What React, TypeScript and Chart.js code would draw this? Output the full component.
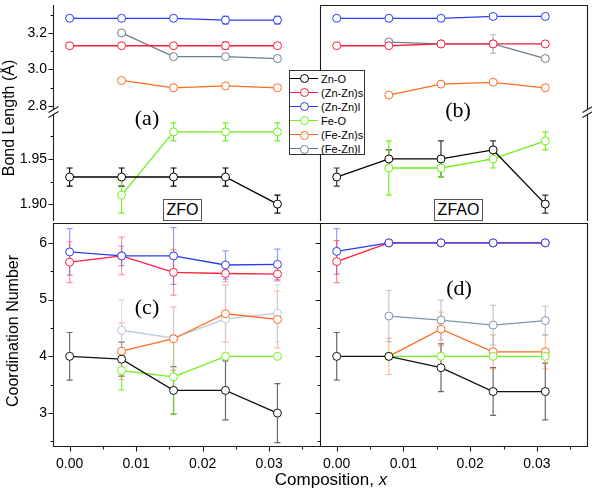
import React, { useEffect, useRef } from "react";
import { Chart, registerables } from "chart.js";
Chart.register(...registerables);

// ---------- shared axis data ----------
const compositions = [0, 0.0078125, 0.015625, 0.0234375, 0.03125];
const X_MIN = -0.0025;
const X_MAX = 0.0375;
const xMajorTicks = [0, 0.01, 0.02, 0.03];
const xMinorTicks = [0.005, 0.015, 0.025, 0.035];
const xTickLabels = ["0.00", "0.01", "0.02", "0.03"];

const seriesNames = ["Zn-O", "(Zn-Zn)s", "(Zn-Zn)l", "Fe-O", "(Fe-Zn)s", "(Fe-Zn)l"];

// bond length axis (broken)
const upperMin = 2.7676;
const upperMax = 3.3527;
const upperMajorTicks = [2.8, 3.0, 3.2];
const upperMinorTicks = [2.9, 3.1, 3.3];
const upperTickLabels = ["2.8", "3.0", "3.2"];
const lowerMin = 1.8824;
const lowerMax = 2.002;
const lowerMajorTicks = [1.9, 1.95];
const lowerMinorTicks = [1.925, 1.975];
const lowerTickLabels = ["1.90", "1.95"];

// coordination number axis
const cnMin = 2.42;
const cnMax = 6.35;
const cnMajorTicks = [3, 4, 5, 6];
const cnMinorTicks = [2.5, 3.5, 4.5, 5.5];
const cnTickLabels = ["3", "4", "5", "6"];

// ---------- (a) ZFO bond lengths ----------
const zfoZnO = [1.93, 1.93, 1.93, 1.93, 1.9];
const zfoZnOErr = [0.01, 0.01, 0.01, 0.01, 0.01];
const zfoZnZnS = [3.13, 3.13, 3.13, 3.13, 3.13];
const zfoZnZnSErr = [0.015, 0.005, 0.005, 0.02, 0.015];
const zfoZnZnL = [3.28, 3.28, 3.28, 3.27, 3.27];
const zfoZnZnLErr = [0.006, 0.006, 0.006, 0.02, 0.02];
const zfoFeO = [null, 1.91, 1.98, 1.98, 1.98];
const zfoFeOErr = [null, 0.02, 0.01, 0.01, 0.01];
const zfoFeZnS = [null, 2.94, 2.9, 2.91, 2.9];
const zfoFeZnSErr = [null, 0, 0, 0, 0];
const zfoFeZnL = [null, 3.2, 3.07, 3.07, 3.06];
const zfoFeZnLErr = [null, 0, 0, 0, 0];

// ---------- (b) ZFAO bond lengths ----------
const zfaoZnO = [1.93, 1.95, 1.95, 1.96, 1.9];
const zfaoZnOErr = [0.01, 0.01, 0.02, 0.01, 0.01];
const zfaoZnZnS = [3.13, 3.13, 3.14, 3.14, 3.14];
const zfaoZnZnSErr = [0, 0, 0, 0, 0];
const zfaoZnZnL = [3.28, 3.28, 3.28, 3.29, 3.29];
const zfaoZnZnLErr = [0, 0, 0, 0, 0];
const zfaoFeO = [null, 1.94, 1.94, 1.95, 1.97];
const zfaoFeOErr = [null, 0.03, 0.01, 0.01, 0.01];
const zfaoFeZnS = [null, 2.86, 2.92, 2.93, 2.9];
const zfaoFeZnSErr = [null, 0, 0, 0, 0];
const zfaoFeZnL = [null, 3.15, 3.14, 3.14, 3.06];
const zfaoFeZnLErr = [null, 0.01, 0, 0.05, 0];

// ---------- (c) ZFO coordination numbers ----------
const cnZfoZnO = [4.0, 3.95, 3.4, 3.4, 3.0];
const cnZfoZnOErr = [0.42, 0.3, 0.42, 0.52, 0.52];
const cnZfoZnZnS = [5.66, 5.77, 5.48, 5.46, 5.45];
const cnZfoZnZnSErr = [0.36, 0.33, 0.4, 0.15, 0.12];
const cnZfoZnZnL = [5.84, 5.77, 5.77, 5.61, 5.62];
const cnZfoZnZnLErr = [0.41, 0.17, 0.5, 0.25, 0.27];
const cnZfoFeO = [null, 3.75, 3.64, 4.0, 4.0];
const cnZfoFeOErr = [null, 0.34, 0.66, 0, 0];
const cnZfoFeZnS = [null, 4.09, 4.31, 4.75, 4.65];
const cnZfoFeZnSErr = [null, 0.5, 0.56, 0.5, 0.5];
const cnZfoFeZnL = [null, 4.46, 4.32, 4.66, 4.76];
const cnZfoFeZnLErr = [null, 0.54, 0.55, 0.6, 0.5];

// ---------- (d) ZFAO coordination numbers ----------
const cnZfaoZnO = [4.0, 4.0, 3.8, 3.38, 3.38];
const cnZfaoZnOErr = [0.42, 0, 0.42, 0.42, 0.5];
const cnZfaoZnZnS = [5.67, 6.0, 6.0, 6.0, 6.0];
const cnZfaoZnZnSErr = [0.37, 0, 0, 0, 0];
const cnZfaoZnZnL = [5.85, 6.0, 6.0, 6.0, 6.0];
const cnZfaoZnZnLErr = [0.4, 0, 0, 0, 0];
const cnZfaoFeO = [null, 4.0, 4.0, 4.0, 4.0];
const cnZfaoFeOErr = [null, 0, 0, 0, 0];
const cnZfaoFeZnS = [null, 4.0, 4.48, 4.08, 4.08];
const cnZfaoFeZnSErr = [null, 0.32, 0.3, 0.3, 0.3];
const cnZfaoFeZnL = [null, 4.71, 4.64, 4.55, 4.63];
const cnZfaoFeZnLErr = [null, 0.45, 0.35, 0.35, 0.25];

// ---------- colours ----------
const cBlack = "#000000";
const cRed = "#ff1e3c";
const cBlue = "#2a3cf2";
const cGreen = "#6ff01a";
const cOrange = "#ff6b1f";
const cGray = "#6c7e8e";
const legendColors = [cBlack, cRed, cBlue, cGreen, cOrange, cGray];

type Series = { name: string; values: (number | null)[]; errors: (number | null)[]; color: string; errColor: string };

const S = (name: string, values: any[], errors: any[], color: string, errColor?: string): Series => ({
  name,
  values,
  errors,
  color,
  errColor: errColor || color,
});

type Spec = {
  key: string;
  left: number;
  top: number;
  width: number;
  height: number;
  pad: { left: number; right: number; top: number; bottom: number };
  yWidth: number;
  xHeight: number;
  yMin: number;
  yMax: number;
  yMajor: number[];
  yMinor: number[];
  yLabels: string[] | null;
  yTicks: boolean;
  xTicks: boolean;
  sides: string[];
  breakSide?: string;
  series: Series[];
};

const specs: Spec[] = [
  {
    key: "aU",
    left: 0, top: 0, width: 324, height: 118,
    pad: { left: 0, right: 4, top: 2, bottom: 6 },
    yWidth: 53, xHeight: 0,
    yMin: upperMin, yMax: upperMax,
    yMajor: upperMajorTicks, yMinor: upperMinorTicks, yLabels: upperTickLabels, yTicks: true,
    xTicks: false,
    sides: ["left"],
    series: [
      S("(Zn-Zn)s", zfoZnZnS, zfoZnZnSErr, cRed),
      S("(Zn-Zn)l", zfoZnZnL, zfoZnZnLErr, cBlue),
      S("(Fe-Zn)s", zfoFeZnS, zfoFeZnSErr, cOrange),
      S("(Fe-Zn)l", zfoFeZnL, zfoFeZnLErr, cGray),
    ],
  },
  {
    key: "aL",
    left: 0, top: 106, width: 324, height: 119,
    pad: { left: 0, right: 4, top: 6, bottom: 2 },
    yWidth: 53, xHeight: 0,
    yMin: lowerMin, yMax: lowerMax,
    yMajor: lowerMajorTicks, yMinor: lowerMinorTicks, yLabels: lowerTickLabels, yTicks: true,
    xTicks: false,
    sides: ["left"],
    breakSide: "left",
    series: [
      S("Zn-O", zfoZnO, zfoZnOErr, cBlack),
      S("Fe-O", zfoFeO, zfoFeOErr, cGreen),
    ],
  },
  {
    key: "bU",
    left: 314, top: 0, width: 278, height: 118,
    pad: { left: 6, right: 5, top: 2, bottom: 6 },
    yWidth: 0, xHeight: 0,
    yMin: upperMin, yMax: upperMax,
    yMajor: upperMajorTicks, yMinor: upperMinorTicks, yLabels: null, yTicks: false,
    xTicks: false,
    sides: ["top", "left", "right"],
    series: [
      S("(Zn-Zn)s", zfaoZnZnS, zfaoZnZnSErr, cRed),
      S("(Zn-Zn)l", zfaoZnZnL, zfaoZnZnLErr, cBlue),
      S("(Fe-Zn)l", zfaoFeZnL, zfaoFeZnLErr, cGray, "rgba(120,140,160,0.6)"),
      S("(Fe-Zn)s", zfaoFeZnS, zfaoFeZnSErr, cOrange),
    ],
  },
  {
    key: "bL",
    left: 314, top: 106, width: 278, height: 119,
    pad: { left: 6, right: 5, top: 6, bottom: 2 },
    yWidth: 0, xHeight: 0,
    yMin: lowerMin, yMax: lowerMax,
    yMajor: lowerMajorTicks, yMinor: lowerMinorTicks, yLabels: null, yTicks: false,
    xTicks: false,
    sides: ["left", "right"],
    breakSide: "right",
    series: [
      S("Zn-O", zfaoZnO, zfaoZnOErr, cBlack, "#333"),
      S("Fe-O", zfaoFeO, zfaoFeOErr, cGreen),
    ],
  },
  {
    key: "c",
    left: 0, top: 217, width: 324, height: 281,
    pad: { left: 0, right: 4, top: 6, bottom: 0 },
    yWidth: 53, xHeight: 52,
    yMin: cnMin, yMax: cnMax,
    yMajor: cnMajorTicks, yMinor: cnMinorTicks, yLabels: cnTickLabels, yTicks: true,
    xTicks: true,
    sides: ["left", "top", "bottom"],
    series: [
      S("Zn-O", cnZfoZnO, cnZfoZnOErr, "#111", "rgba(70,70,70,0.8)"),
      S("Fe-O", cnZfoFeO, cnZfoFeOErr, cGreen, "rgba(110,235,30,0.8)"),
      S("(Zn-Zn)l", cnZfoZnZnL, cnZfoZnZnLErr, cBlue, "rgba(60,80,240,0.55)"),
      S("(Zn-Zn)s", cnZfoZnZnS, cnZfoZnZnSErr, cRed, "rgba(255,40,70,0.5)"),
      S("(Fe-Zn)s", cnZfoFeZnS, cnZfoFeZnSErr, cOrange, "rgba(255,120,50,0.5)"),
      S("(Fe-Zn)l", cnZfoFeZnL, cnZfoFeZnLErr, "#bccadb", "rgba(190,205,225,0.6)"),
    ],
  },
  {
    key: "d",
    left: 314, top: 217, width: 278, height: 281,
    pad: { left: 6, right: 5, top: 6, bottom: 0 },
    yWidth: 0, xHeight: 52,
    yMin: cnMin, yMax: cnMax,
    yMajor: cnMajorTicks, yMinor: cnMinorTicks, yLabels: null, yTicks: true,
    xTicks: true,
    sides: ["left", "top", "right", "bottom"],
    series: [
      S("Zn-O", cnZfaoZnO, cnZfaoZnOErr, "#111", "rgba(70,70,70,0.8)"),
      S("(Zn-Zn)l", cnZfaoZnZnL, cnZfaoZnZnLErr, cBlue, "rgba(60,80,240,0.55)"),
      S("(Zn-Zn)s", cnZfaoZnZnS, cnZfaoZnZnSErr, cRed, "rgba(255,40,70,0.6)"),
      S("Fe-O", cnZfaoFeO, cnZfaoFeOErr, cGreen),
      S("(Fe-Zn)s", cnZfaoFeZnS, cnZfaoFeZnSErr, cOrange, "rgba(255,120,50,0.5)"),
      S("(Fe-Zn)l", cnZfaoFeZnL, cnZfaoFeZnLErr, "#8294b2", "rgba(150,165,190,0.6)"),
    ],
  },
];

const tickFont = { family: '"Liberation Sans", Arial, sans-serif', size: 14 };

function framePlugin(spec: Spec) {
  return {
    id: "frame_" + spec.key,
    beforeDatasetsDraw(chart: any) {
      const { ctx, chartArea: a } = chart;
      const xs = chart.scales.x;
      const ys = chart.scales.y;
      ctx.save();
      ctx.beginPath();
      ctx.rect(a.left, a.top, a.right - a.left, a.bottom - a.top);
      ctx.clip();
      ctx.lineWidth = 1.2;
      chart.data.datasets.forEach((ds: any) => {
        ds.data.forEach((p: any, j: number) => {
          const e = ds.errorBars[j];
          if (!e) return;
          const x = xs.getPixelForValue(p.x);
          const y1 = ys.getPixelForValue(p.y + e);
          const y2 = ys.getPixelForValue(p.y - e);
          ctx.strokeStyle = ds.errorColor;
          ctx.beginPath();
          ctx.moveTo(x, y1);
          ctx.lineTo(x, y2);
          ctx.moveTo(x - 3, y1);
          ctx.lineTo(x + 3, y1);
          ctx.moveTo(x - 3, y2);
          ctx.lineTo(x + 3, y2);
          ctx.stroke();
        });
      });
      ctx.restore();
    },
    afterDraw(chart: any) {
      const { ctx, chartArea: a } = chart;
      const xs = chart.scales.x;
      const ys = chart.scales.y;
      const L = Math.round(a.left) + 0.5;
      const R = Math.round(a.right) + 0.5;
      const T = Math.round(a.top) + 0.5;
      const B = Math.round(a.bottom) + 0.5;
      ctx.save();
      ctx.strokeStyle = "#1a1a1a";
      ctx.lineWidth = 1.1;
      ctx.beginPath();
      if (spec.sides.includes("left")) { ctx.moveTo(L, T - 0.5); ctx.lineTo(L, B + 0.5); }
      if (spec.sides.includes("right")) { ctx.moveTo(R, T - 0.5); ctx.lineTo(R, B + 0.5); }
      if (spec.sides.includes("top")) { ctx.moveTo(L - 0.5, T); ctx.lineTo(R + 0.5, T); }
      if (spec.sides.includes("bottom")) { ctx.moveTo(L - 0.5, B); ctx.lineTo(R + 0.5, B); }
      ctx.stroke();
      ctx.beginPath();
      if (spec.yTicks) {
        spec.yMajor.forEach((v) => {
          const y = Math.round(ys.getPixelForValue(v)) + 0.5;
          ctx.moveTo(L, y);
          ctx.lineTo(L - 5, y);
        });
        spec.yMinor.forEach((v) => {
          const y = Math.round(ys.getPixelForValue(v)) + 0.5;
          if (y < a.top || y > a.bottom) return;
          ctx.moveTo(L, y);
          ctx.lineTo(L - 3, y);
        });
      }
      if (spec.xTicks) {
        xMajorTicks.forEach((v) => {
          const x = Math.round(xs.getPixelForValue(v)) + 0.5;
          ctx.moveTo(x, B);
          ctx.lineTo(x, B + 5);
        });
        xMinorTicks.forEach((v) => {
          const x = Math.round(xs.getPixelForValue(v)) + 0.5;
          ctx.moveTo(x, B);
          ctx.lineTo(x, B + 3);
        });
      }
      ctx.stroke();
      if (spec.breakSide) {
        const bx = spec.breakSide === "left" ? L : R;
        const by = a.top;
        ctx.fillStyle = "#fff";
        ctx.fillRect(bx - 2, by - 2.5, 4, 5);
        ctx.beginPath();
        ctx.moveTo(bx - 5, by - 2.5 + 3);
        ctx.lineTo(bx + 5, by - 2.5 - 3);
        ctx.moveTo(bx - 5, by + 2.5 + 3);
        ctx.lineTo(bx + 5, by + 2.5 - 3);
        ctx.stroke();
      }
      ctx.restore();
    },
  };
}

function makeChart(canvas: HTMLCanvasElement, spec: Spec) {
  const datasets = spec.series.map((s) => {
    const pts: any[] = [];
    const errs: number[] = [];
    compositions.forEach((x, i) => {
      const v = s.values[i];
      if (v === null || v === undefined) return;
      pts.push({ x, y: v });
      errs.push((s.errors[i] as number) || 0);
    });
    return {
      label: s.name,
      data: pts,
      errorBars: errs,
      errorColor: s.errColor,
      borderColor: s.color,
      backgroundColor: "#fff",
      pointBackgroundColor: "#fff",
      pointBorderColor: s.color,
      pointRadius: 4,
      pointBorderWidth: 1,
      borderWidth: 1.3,
      tension: 0,
      showLine: true,
    } as any;
  });

  return new Chart(canvas, {
    type: "line",
    data: { datasets },
    options: {
      animation: false,
      responsive: false,
      maintainAspectRatio: false,
      events: [],
      layout: { padding: spec.pad },
      plugins: { legend: { display: false }, tooltip: { enabled: false } },
      scales: {
        x: {
          type: "linear",
          min: X_MIN,
          max: X_MAX,
          display: spec.xHeight > 0,
          grid: { display: false, drawTicks: false },
          border: { display: false },
          ticks: {
            font: tickFont,
            color: "#000",
            padding: 10,
            autoSkip: false,
            maxRotation: 0,
            callback: (v: any) => {
              const i = xMajorTicks.findIndex((t) => Math.abs(t - v) < 1e-9);
              return i >= 0 ? xTickLabels[i] : "";
            },
          },
          afterBuildTicks: (s: any) => {
            s.ticks = xMajorTicks.map((v) => ({ value: v }));
          },
          afterFit: (s: any) => {
            s.height = spec.xHeight;
            s.paddingLeft = 0;
            s.paddingRight = 0;
          },
        },
        y: {
          type: "linear",
          min: spec.yMin,
          max: spec.yMax,
          display: spec.yWidth > 0,
          grid: { display: false, drawTicks: false },
          border: { display: false },
          ticks: {
            font: tickFont,
            color: "#000",
            padding: 6,
            autoSkip: false,
            callback: (v: any) => {
              if (!spec.yLabels) return "";
              const i = spec.yMajor.findIndex((t) => Math.abs(t - v) < 1e-9);
              return i >= 0 ? spec.yLabels[i] : "";
            },
          },
          afterBuildTicks: (s: any) => {
            s.ticks = spec.yMajor.map((v) => ({ value: v }));
          },
          afterFit: (s: any) => {
            s.width = spec.yWidth;
            s.paddingTop = 0;
            s.paddingBottom = 0;
          },
        },
      },
    } as any,
    plugins: [framePlugin(spec)],
  });
}

const sans = '"Liberation Sans", Arial, sans-serif';
const serif = '"Liberation Serif", "Times New Roman", serif';

const panelLabels = [
  { text: "(a)", x: 147, y: 118 },
  { text: "(b)", x: 458, y: 110 },
  { text: "(c)", x: 147, y: 307 },
  { text: "(d)", x: 459, y: 288 },
];

export default function App() {
  const refs = useRef<(HTMLCanvasElement | null)[]>([]);
  useEffect(() => {
    const charts = specs.map((s, i) => makeChart(refs.current[i] as HTMLCanvasElement, s));
    return () => charts.forEach((c) => c.destroy());
  }, []);

  return (
    <div
      style={{
        position: "fixed",
        left: 0,
        top: 0,
        width: 592,
        height: 498,
        background: "#fff",
        overflow: "hidden",
        fontFamily: sans,
        color: "#000",
      }}
    >
      {specs.map((s, i) => (
        <canvas
          key={s.key}
          ref={(el) => {
            refs.current[i] = el;
          }}
          width={s.width}
          height={s.height}
          style={{ position: "absolute", left: s.left, top: s.top, width: s.width, height: s.height }}
        />
      ))}

      {panelLabels.map((p) => (
        <div
          key={p.text}
          style={{
            position: "absolute",
            left: p.x,
            top: p.y,
            transform: "translate(-50%, -50%)",
            fontFamily: serif,
            fontSize: 22,
            lineHeight: "22px",
            whiteSpace: "nowrap",
          }}
        >
          {p.text}
        </div>
      ))}

      <div
        style={{
          position: "absolute",
          left: 163,
          top: 199,
          width: 39,
          height: 22,
          boxSizing: "border-box",
          border: "1px solid #555",
          display: "flex",
          alignItems: "center",
          justifyContent: "center",
          fontSize: 16,
          background: "#fff",
        }}
      >
        ZFO
      </div>
      <div
        style={{
          position: "absolute",
          left: 434,
          top: 199,
          width: 49,
          height: 22,
          boxSizing: "border-box",
          border: "1px solid #555",
          display: "flex",
          alignItems: "center",
          justifyContent: "center",
          fontSize: 16,
          background: "#fff",
        }}
      >
        ZFAO
      </div>

      {/* legend */}
      <div
        style={{
          position: "absolute",
          left: 289,
          top: 70,
          width: 76,
          height: 85,
          boxSizing: "border-box",
          border: "1px solid #333",
          background: "#fff",
        }}
      >
        {seriesNames.map((name, i) => (
          <div key={name} style={{ position: "absolute", left: 0, top: 1.6 + 14.1 * i, width: 74, height: 12 }}>
            <div
              style={{
                position: "absolute",
                left: 0,
                top: 5.4,
                width: 28,
                height: 0,
                borderTop: `1.3px solid ${legendColors[i]}`,
              }}
            />
            <div
              style={{
                position: "absolute",
                left: 9.5,
                top: 1.5,
                width: 9,
                height: 9,
                boxSizing: "border-box",
                borderRadius: "50%",
                border: `1px solid ${legendColors[i]}`,
                background: "#fff",
              }}
            />
            <span
              style={{
                position: "absolute",
                left: 31,
                top: 0,
                fontSize: 11,
                lineHeight: "12px",
                whiteSpace: "nowrap",
              }}
            >
              {name}
            </span>
          </div>
        ))}
      </div>

      {/* axis titles */}
      <div
        style={{
          position: "absolute",
          left: 9,
          top: 118,
          transform: "translate(-50%, -50%) rotate(-90deg)",
          fontSize: 16,
          lineHeight: "16px",
          whiteSpace: "nowrap",
        }}
      >
        Bond Length (Å)
      </div>
      <div
        style={{
          position: "absolute",
          left: 12.7,
          top: 330.5,
          transform: "translate(-50%, -50%) rotate(-90deg)",
          fontSize: 16,
          lineHeight: "16px",
          whiteSpace: "nowrap",
        }}
      >
        Coordination Number
      </div>
      <div
        style={{
          position: "absolute",
          left: 331,
          top: 471,
          transform: "translateX(-50%)",
          fontSize: 17,
          lineHeight: "17px",
          whiteSpace: "nowrap",
        }}
      >
        Composition, <i>x</i>
      </div>
    </div>
  );
}
